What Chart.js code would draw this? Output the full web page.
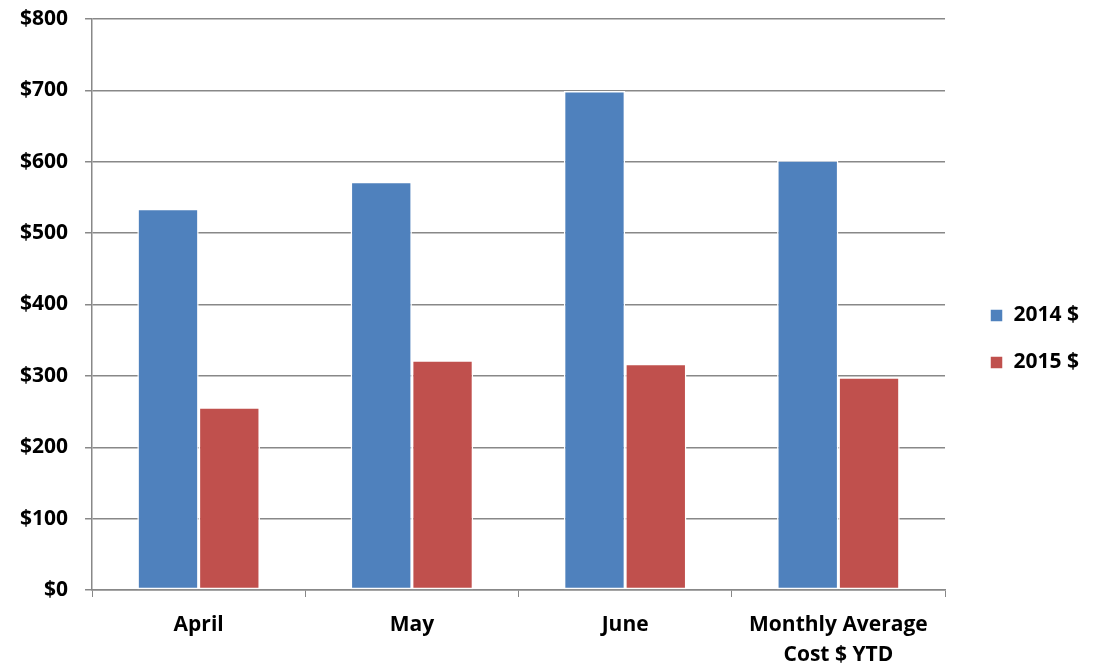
<!DOCTYPE html>
<html>
<head>
<meta charset="utf-8">
<script src="https://cdn.jsdelivr.net/npm/chart.js@4"></script>
<style>
html,body{margin:0;padding:0;background:#fff;}
#wrap{width:1097px;height:671px;}
</style>
</head>
<body>
<div id="wrap"><canvas id="c" width="1097" height="671"></canvas></div>
<script>
const categories = ["April", "May", "June", ["Monthly Average", "Cost $ YTD"]];
const series2014 = [534, 572, 699, 602];
const series2015 = [256, 322, 317, 298];
const seriesNames = ["2014 $", "2015 $"];
const yTicks = [0, 100, 200, 300, 400, 500, 600, 700, 800];

const FONT = "'Open Sans', sans-serif";
const FS = 21;
Chart.defaults.font.family = FONT;
Chart.defaults.color = "#000";

const legendShift = {
  id: "legendShift",
  afterLayout(chart) {
    const lg = chart.legend;
    if (lg) { lg.left += 19; lg.right += 19; lg.top -= 6; lg.bottom -= 6; }
  }
};

new Chart(document.getElementById("c"), {
  type: "bar",
  data: {
    labels: categories,
    datasets: [
      { label: seriesNames[0], data: series2014, backgroundColor: "#4F81BD", borderColor: "#ffffff", borderWidth: 1.5, borderSkipped: false },
      { label: seriesNames[1], data: series2015, backgroundColor: "#C0504D", borderColor: "#ffffff", borderWidth: 1.5, borderSkipped: false }
    ]
  },
  options: {
    responsive: false,
    animation: false,
    layout: { padding: { top: 19, right: 27, bottom: 0, left: 3 } },
    datasets: { bar: { categoryPercentage: 0.575, barPercentage: 1.0 } },
    plugins: {
      tooltip: { enabled: false },
      legend: {
        position: "right",
        labels: {
          boxWidth: 13, boxHeight: 13, padding: 26,
          font: { size: FS, weight: "bold", family: FONT },
          color: "#000"
        }
      }
    },
    scales: {
      x: {
        offset: true,
        afterFit: (s) => { s.height = 81; },
        grid: { display: true, drawOnChartArea: false, drawTicks: true, tickLength: 7, color: "#888", offset: true },
        border: { display: true, color: "#888", width: 1.5 },
        ticks: { font: { size: FS, weight: "bold", family: FONT, lineHeight: 1.43 }, color: "#000", padding: 13, maxRotation: 0, autoSkip: false }
      },
      y: {
        min: 0, max: 800,
        afterBuildTicks: (s) => { s.ticks = yTicks.map(v => ({ value: v })); },
        afterFit: (s) => { s.paddingTop = 0; s.paddingBottom = 0; },
        grid: { color: "#888", lineWidth: 1.5, tickLength: 7 },
        border: { display: true, color: "#888", width: 1.5 },
        ticks: { font: { size: FS, weight: "bold", family: FONT }, color: "#000", padding: 17,
          callback: (v) => "$" + v }
      }
    }
  },
  plugins: [legendShift]
});
</script>
</body>
</html>
